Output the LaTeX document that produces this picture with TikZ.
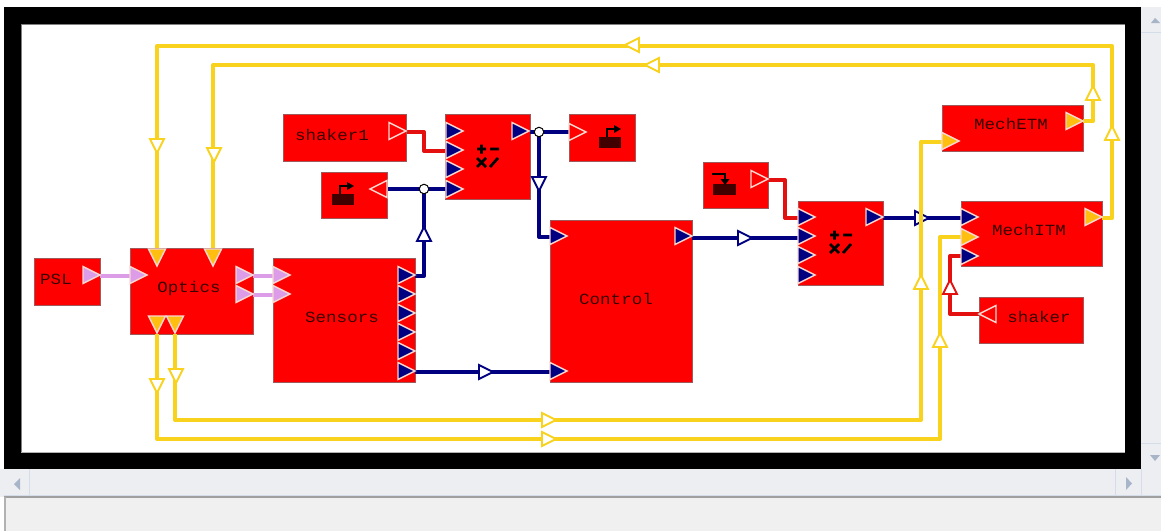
\documentclass[tikz,border=0pt]{standalone}
\usepackage{fontspec}
\newfontfamily\blockfont[FakeStretch=1.13]{Liberation Mono}
\definecolor{wyellow}{HTML}{F8D21C}
\definecolor{wnavy}{HTML}{000080}
\definecolor{wpink}{HTML}{DC9CE8}
\definecolor{wred}{HTML}{E41010}
\definecolor{porange}{HTML}{FFBE10}
\definecolor{pedge}{HTML}{F6D8D0}
\definecolor{blockedge}{HTML}{A05858}
\definecolor{barfill}{HTML}{ECEEF2}
\definecolor{baredge}{HTML}{D5DDEA}
\definecolor{bararrow}{HTML}{A8B4C8}
\definecolor{labelcol}{HTML}{380000}
\tikzset{
  block/.style={draw=blockedge,line width=0.9pt,fill=red,inner sep=0pt},
  blocklabel/.style={font=\blockfont\fontsize{15.5}{16}\selectfont,text=labelcol,inner sep=0pt},
  wire/.style={line width=4pt,line join=round},
  wy/.style={wire,draw=wyellow},
  wn/.style={wire,draw=wnavy},
  wp/.style={wire,draw=wpink},
  wr/.style={wire,draw=wred},
  portn/.style={fill=wnavy,draw=pedge},
  portp/.style={fill=wpink,draw=pedge},
  porty/.style={fill=porange,draw=pedge},
  porth/.style={fill=red,draw=pedge},
  junction/.style={circle,draw=black,line width=1pt,fill=white,minimum size=9.5pt,inner sep=0pt},
  arrowy/.style={draw=wyellow,fill=white},
  arrown/.style={draw=wnavy,fill=white},
  arrowr/.style={draw=wred,fill=white},
  pics/mathicon/.style={code={
    \draw[line width=2.8pt,black] (-10,-7)--(-1,-7) (-5.5,-11.5)--(-5.5,-2.5) (3,-7)--(12,-7)
      (-10,2)--(-1,11) (-10,11)--(-1,2) (3,11)--(11,2);
  }},
  pics/groundout/.style={code={
    \fill[black!75!red] (-11,0) rectangle (11,11);
    \draw[line width=2.2pt,black] (-3,0)--(-3,-8)--(5,-8);
    \fill[black] (4,-12)--(11,-8)--(4,-4)--cycle;
  }},
  pics/groundin/.style={code={
    \fill[black!75!red] (-11,0) rectangle (12,11);
    \draw[line width=2.2pt,black] (-12,-10)--(1,-10)--(1,-4);
    \fill[black] (-3.5,-5)--(1,1)--(5.5,-5)--cycle;
  }},
}
\newcommand{\blk}[6]{\node[block,minimum width=#4pt-#2pt,minimum height=#5pt-#3pt,anchor=north west] (#1) at (#2,#3) {};}
\newcommand{\prt}[5]{%
  \coordinate (#1) at (#2,#3);
  \path[#5,line width=1.4pt,shift={(#2,#3)},rotate=-#4] (0,-8.5)--(17,0)--(0,8.5)--cycle;}
\newcommand{\midarr}[4]{\path[#4,line width=1.9pt,shift={(#1,#2)},rotate=-#3] (-7,-7)--(7,0)--(-7,7)--cycle;}
\begin{document}
\begin{tikzpicture}[x=1pt,y=-1pt]
\useasboundingbox (0,0) rectangle (1161,531);
% window chrome
\fill[white] (0,0) rectangle (1161,531);
\fill[barfill] (1141,7) rectangle (1161,469);
\draw[baredge,line width=0.8pt] (1141,32)--(1161,32) (1141,443)--(1161,443);
\fill[bararrow] (1151,23)--(1155,18)--(1160,23)--cycle;
\fill[bararrow] (1150,455)--(1160,455)--(1155,461)--cycle;
\fill[barfill] (0,469) rectangle (1161,497);
\draw[baredge,line width=0.8pt] (29,469)--(29,495) (4,495)--(1161,495) (1115,469)--(1115,495) (1141,469)--(1141,495);
\fill[bararrow] (20,478)--(14,484)--(20,490)--cycle;
\fill[bararrow] (1126,477)--(1132,483.5)--(1126,490)--cycle;
\fill[gray!12] (4,497) rectangle (1161,531);
\draw[gray!75,line width=1.8pt] (4,497)--(1161,497);
\draw[gray!60,line width=2pt] (5,497)--(5,531);
\fill[black] (4,7) rectangle (1141,469);
\fill[white] (21,24) rectangle (1125,452);
\draw[gray,line width=0.7pt] (21,452)--(21,24)--(1125,24);
\draw[gray!60,line width=0.7pt] (21,452)--(1125,452);
% blocks
\blk{psl}{34}{258}{100}{305}{}
\blk{optics}{130}{248}{253}{334}{}
\blk{sensors}{273}{258}{415}{382}{}
\blk{shakerone}{283}{114}{406}{161}{}
\blk{sumone}{445}{114}{530}{199}{}
\blk{sinkr}{569}{114}{635}{161}{}
\blk{sinkl}{321}{172}{387}{218}{}
\blk{control}{550}{220}{692}{382}{}
\blk{srcg}{703}{162}{768}{208}{}
\blk{sumtwo}{798}{201}{883}{285}{}
\blk{etm}{942}{105}{1083}{151}{}
\blk{itm}{961}{201}{1102}{266}{}
\blk{shaker}{979}{297}{1083}{343}{}
% labels
\node[blocklabel] (tpsl) at (56,279) {PSL};
\node[blocklabel] (topt) at (189,288) {Optics};
\node[blocklabel] (tsen) at (342,317) {Sensors};
\node[blocklabel] (tsh1) at (332,135) {shaker1};
\node[blocklabel] (tctl) at (616,299) {Control};
\node[blocklabel] (tetm) at (1011,124) {MechETM};
\node[blocklabel] (titm) at (1029,230) {MechITM};
\node[blocklabel] (tshk) at (1039,317) {shaker};
% icons
\pic at (487,156) {mathicon};
\pic at (840,242) {mathicon};
\pic at (610,137) {groundout};
\pic at (343,194) {groundout};
\pic at (724,184) {groundin};
% port positions
\coordinate (pslo) at (100,276);
\coordinate (opti) at (130,276);
\coordinate (opto1) at (253,276);
\coordinate (opto2) at (253,295);
\coordinate (seni1) at (273,276);
\coordinate (seni2) at (273,295);
\coordinate (optt1) at (157,248);
\coordinate (optt2) at (213,248);
\coordinate (optb1) at (157,334);
\coordinate (optb2) at (175,334);
\coordinate (seno1) at (415,276);
\coordinate (seno6) at (415,372);
\coordinate (conti1) at (550,237);
\coordinate (conti2) at (550,372);
\coordinate (conto) at (692,238);
\coordinate (sh1o) at (407,132);
\coordinate (s1i2) at (446,151);
\coordinate (s1i4) at (446,189);
\coordinate (s1o) at (530,132);
\coordinate (snkr) at (569,132);
\coordinate (snkl) at (388,189);
\coordinate (srco) at (768,180);
\coordinate (s2i1) at (798,218);
\coordinate (s2i2) at (798,238);
\coordinate (s2o) at (883,218);
\coordinate (etmi) at (942,142);
\coordinate (etmo) at (1083,121);
\coordinate (itmi1) at (961,218);
\coordinate (itmi2) at (961,237);
\coordinate (itmi3) at (961,256);
\coordinate (itmo) at (1102,218);
\coordinate (shko) at (979,314);
\coordinate (ja) at (424,189);
\coordinate (jb) at (539,132);
% wires
\draw[wp] (pslo)--(opti);
\draw[wp] (opto1)--(seni1);
\draw[wp] (opto2)--(seni2);
\draw[wn] (seno1)-|(ja);
\draw[wn] (s1i4)--(snkl);
\draw[wn] (s1o)--(snkr);
\draw[wn] (jb)|-(conti1);
\draw[wn] (seno6)--(conti2);
\draw[wn] (conto)--(s2i2);
\draw[wn] (s2o)--(itmi1);
\draw[wr] (sh1o)--(424,132)--(424,151)--(s1i2);
\draw[wr] (srco)--(785,180)--(785,218)--(s2i1);
\draw[wr] (shko)--(950,314)--(950,256)--(itmi3);
\midarr{922}{218}{0}{arrown}
\draw[wy] (optb1)--(157,439)--(940,439)--(940,237)--(itmi2);
\draw[wy] (optb2)--(175,420)--(921,420)--(921,142)--(etmi);
\draw[wy] (etmo)--(1093,121)--(1093,65)--(213,65)--(optt2);
\draw[wy] (itmo)--(1112,218)--(1112,46)--(157,46)--(optt1);
\node[junction] (ja1) at (ja) {};
\node[junction] (jb1) at (jb) {};
% ports
\prt{a1}{83}{275}{0}{portp}
\prt{a2}{130}{275}{0}{portp}
\prt{a3}{236}{275}{0}{portp}
\prt{a4}{236}{294}{0}{portp}
\prt{a5}{273}{275}{0}{portp}
\prt{a6}{273}{294}{0}{portp}
\prt{b1}{157}{249}{90}{porty}
\prt{b2}{213}{249}{90}{porty}
\prt{b3}{157}{316}{90}{porty}
\prt{b4}{175}{316}{90}{porty}
\prt{c1}{398}{275}{0}{portn}
\prt{c2}{398}{294}{0}{portn}
\prt{c3}{398}{313}{0}{portn}
\prt{c4}{398}{332}{0}{portn}
\prt{c5}{398}{351}{0}{portn}
\prt{c6}{398}{371}{0}{portn}
\prt{d1}{389}{131}{0}{porth}
\prt{d2}{387}{189}{180}{porth}
\prt{d3}{446}{131}{0}{portn}
\prt{d4}{446}{150}{0}{portn}
\prt{d5}{446}{169}{0}{portn}
\prt{d6}{446}{189}{0}{portn}
\prt{d7}{512}{131}{0}{portn}
\prt{d8}{569}{132}{0}{porth}
\prt{e1}{550}{236}{0}{portn}
\prt{e2}{550}{371}{0}{portn}
\prt{e3}{675}{236}{0}{portn}
\prt{f1}{751}{179}{0}{porth}
\prt{f2}{798}{217}{0}{portn}
\prt{f3}{798}{236}{0}{portn}
\prt{f4}{798}{255}{0}{portn}
\prt{f5}{798}{275}{0}{portn}
\prt{f6}{866}{217}{0}{portn}
\prt{g1}{942}{141}{0}{porty}
\prt{g2}{1066}{121}{0}{porty}
\prt{g3}{961}{217}{0}{portn}
\prt{g4}{961}{237}{0}{porty}
\prt{g5}{961}{256}{0}{portn}
\prt{g6}{1085}{217}{0}{porty}
\prt{g7}{996}{314}{180}{porth}
% mid-wire arrows
\midarr{157}{146}{90}{arrowy}
\midarr{214}{155}{90}{arrowy}
\midarr{157}{386}{90}{arrowy}
\midarr{176}{376}{90}{arrowy}
\midarr{632}{45}{180}{arrowy}
\midarr{652}{65}{180}{arrowy}
\midarr{549}{420}{0}{arrowy}
\midarr{549}{439}{0}{arrowy}
\midarr{921}{282}{-90}{arrowy}
\midarr{940}{340}{-90}{arrowy}
\midarr{1093}{93}{-90}{arrowy}
\midarr{1112}{133}{-90}{arrowy}
\midarr{424}{234}{-90}{arrown}
\midarr{539}{184}{90}{arrown}
\midarr{486}{372}{0}{arrown}
\midarr{745}{238}{0}{arrown}
\midarr{950}{287}{-90}{arrowr}
\end{tikzpicture}
\end{document}
